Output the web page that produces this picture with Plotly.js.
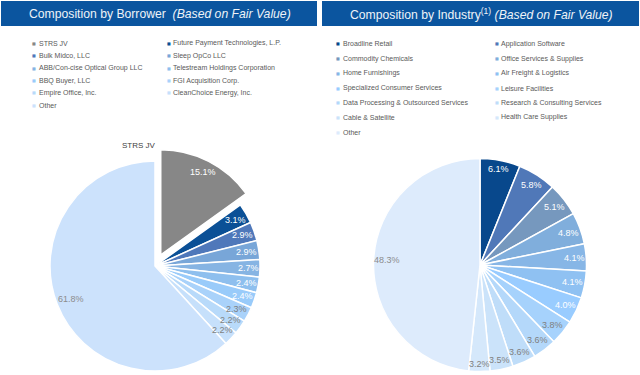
<!DOCTYPE html>
<html>
<head>
<meta charset="utf-8">
<script src="https://cdn.plot.ly/plotly-3.0.1.min.js"></script>
<style>
html, body { margin:0; padding:0; overflow:hidden; background:#fff; }
#chart { width:640px; height:400px; }
</style>
</head>
<body>
<div id="chart"></div>
<script>
// ---- Data ----
const borrowerLabels = ['STRS JV','Future Payment Technologies, L.P.','Bulk Midco, LLC','Sleep OpCo LLC',
  'ABB/Con-cise Optical Group LLC','Telestream Holdings Corporation','BBQ Buyer, LLC',
  'FGI Acquisition Corp.','Empire Office, Inc.','CleanChoice Energy, Inc.','Other'];
const borrowerValues = [15.1, 3.1, 2.9, 2.9, 2.7, 2.4, 2.4, 2.3, 2.2, 2.2, 61.8];
const borrowerColors = ['#878787','#0B5096','#4F78BA','#78A6D8','#86B4E3','#8EBFEE','#99CBFA',
  '#A9D2FA','#B8DAFA','#C6E0FB','#CCE2FC'];
const borrowerTextColors = ['#ffffff','#ffffff','#ffffff','#ffffff','#ffffff','#ffffff','#ffffff',
  '#7f7f7f','#7f7f7f','#7f7f7f','#8c8c8c'];

const industryLabels = ['Broadline Retail','Application Software','Commodity Chemicals','Office Services & Supplies',
  'Home Furnishings','Air Freight & Logistics','Specialized Consumer Services','Leisure Facilities',
  'Data Processing & Outsourced Services','Research & Consulting Services','Cable & Satellite',
  'Health Care Supplies','Other'];
const industryValues = [6.1, 5.8, 5.1, 4.8, 4.1, 4.1, 4.0, 3.8, 3.6, 3.6, 3.5, 3.2, 48.3];
const industryColors = ['#08488C','#5078B8','#7698BE','#80AEDC','#87B6E6','#8FC1F2','#99CCFF',
  '#A6D2FC','#B4D8FA','#BFDDF9','#CBE3FA','#D5E8FB','#DDEBFC'];
const industryTextColors = ['#ffffff','#ffffff','#ffffff','#ffffff','#ffffff','#ffffff','#ffffff',
  '#7f7f7f','#7f7f7f','#7f7f7f','#7f7f7f','#7f7f7f','#8c8c8c'];

const leftTitle = 'Composition by Borrower&nbsp;&nbsp;<i>(Based on Fair Value)</i>';
const rightTitle = 'Composition by Industry<sup>(1)</sup> <i>(Based on Fair Value)</i>';

// ---- Layout helpers (pixel -> paper) ----
const W = 640, H = 400;
const px = x => x / W;
const py = y => 1 - y / H;
const font = 'Liberation Sans, Arial, sans-serif';

const pullL = 0.12;
const pullsL = borrowerValues.map((v, i) => i === 0 ? pullL : 0);
const pieL = { cx: 155, cy: 266, r: 105 };
const pieR = { cx: 480, cy: 265, r: 106.5 };
function dom(p, half) {
  return { x: [px(p.cx - half), px(p.cx + half)], y: [py(p.cy + half), py(p.cy - half)] };
}

const traces = [
  {
    type: 'pie', labels: borrowerLabels, values: borrowerValues, sort: false,
    direction: 'clockwise', rotation: 0, pull: pullsL,
    marker: { colors: borrowerColors, line: { color: '#ffffff', width: 1.5 } },
    textinfo: 'none', hoverinfo: 'none', showlegend: false,
    domain: dom(pieL, pieL.r * (1 + pullL))
  },
  {
    type: 'pie', labels: industryLabels, values: industryValues, sort: false,
    direction: 'clockwise', rotation: 0,
    marker: { colors: industryColors, line: { color: '#ffffff', width: 1.5 } },
    textinfo: 'none', hoverinfo: 'none', showlegend: false,
    domain: dom(pieR, pieR.r)
  }
];

const annotations = [];
const shapes = [
  { type: 'rect', xref: 'paper', yref: 'paper', x0: px(1), x1: px(317), y0: py(26), y1: py(1),
    fillcolor: '#0B559F', line: { width: 0 } },
  { type: 'rect', xref: 'paper', yref: 'paper', x0: px(322), x1: px(639), y0: py(26), y1: py(1),
    fillcolor: '#0B559F', line: { width: 0 } }
];
annotations.push({ text: leftTitle, xref: 'paper', yref: 'paper', x: px(160), y: py(14),
  xanchor: 'center', yanchor: 'middle', showarrow: false,
  font: { family: font, size: 12.2, color: '#EEF3F8' } });
annotations.push({ text: rightTitle, xref: 'paper', yref: 'paper', x: px(481), y: py(14),
  xanchor: 'center', yanchor: 'middle', showarrow: false,
  font: { family: font, size: 12.2, color: '#EEF3F8' } });

function legend(labels, colors, y0, dy, mx, tx) {
  labels.forEach((lab, i) => {
    const c = i % 2, r = Math.floor(i / 2);
    const y = y0 + r * dy;
    annotations.push({ text: '■', xref: 'paper', yref: 'paper', x: px(mx[c]), y: py(y),
      xanchor: 'center', yanchor: 'middle', showarrow: false,
      font: { family: 'DejaVu Sans', size: 4, color: colors[i] } });
    annotations.push({ text: lab, xref: 'paper', yref: 'paper', x: px(tx[c]), y: py(y),
      xanchor: 'left', yanchor: 'middle', showarrow: false,
      font: { family: font, size: 7, color: '#595959' } });
  });
}
legend(borrowerLabels, borrowerColors, 43.3, 12.4, [34, 169], [36.5, 171]);
legend(industryLabels, industryColors, 44, 14.67, [338, 497], [340.5, 499]);

// Slice value labels, placed at the outer end of each slice (derived from the values)
function sliceLabels(values, textColors, p, pulls) {
  const total = values.reduce((a, b) => a + b, 0);
  let cum = 0;
  values.forEach((v, i) => {
    const th = (cum + v / 2) / total * 2 * Math.PI;
    cum += v;
    const s = Math.sin(th), c = Math.cos(th);
    const txt = v.toFixed(1) + '%';
    const halfW = txt.length * 2.1, halfH = 4.5;
    const pr = (pulls ? pulls[i] : 0) * p.r;
    const d = p.r - 3 - halfW * Math.abs(s) - halfH * Math.abs(c);
    const x = p.cx + (pr + d) * s, y = p.cy - (pr + d) * c;
    annotations.push({ text: txt, xref: 'paper', yref: 'paper', x: px(x), y: py(y),
      xanchor: 'center', yanchor: 'middle', showarrow: false,
      font: { family: font, size: 9, color: textColors[i] } });
  });
}
sliceLabels(borrowerValues, borrowerTextColors, pieL, pullsL);
sliceLabels(industryValues, industryTextColors, pieR, null);

annotations.push({ text: borrowerLabels[0], xref: 'paper', yref: 'paper', x: px(139), y: py(145),
  xanchor: 'center', yanchor: 'middle', showarrow: false,
  font: { family: font, size: 8, color: '#404040' } });

const layout = {
  width: W, height: H, margin: { l: 0, r: 0, t: 0, b: 0 },
  paper_bgcolor: '#ffffff', plot_bgcolor: '#ffffff',
  showlegend: false, shapes, annotations
};
Plotly.newPlot('chart', traces, layout, { displayModeBar: false, staticPlot: true });
</script>
</body>
</html>
